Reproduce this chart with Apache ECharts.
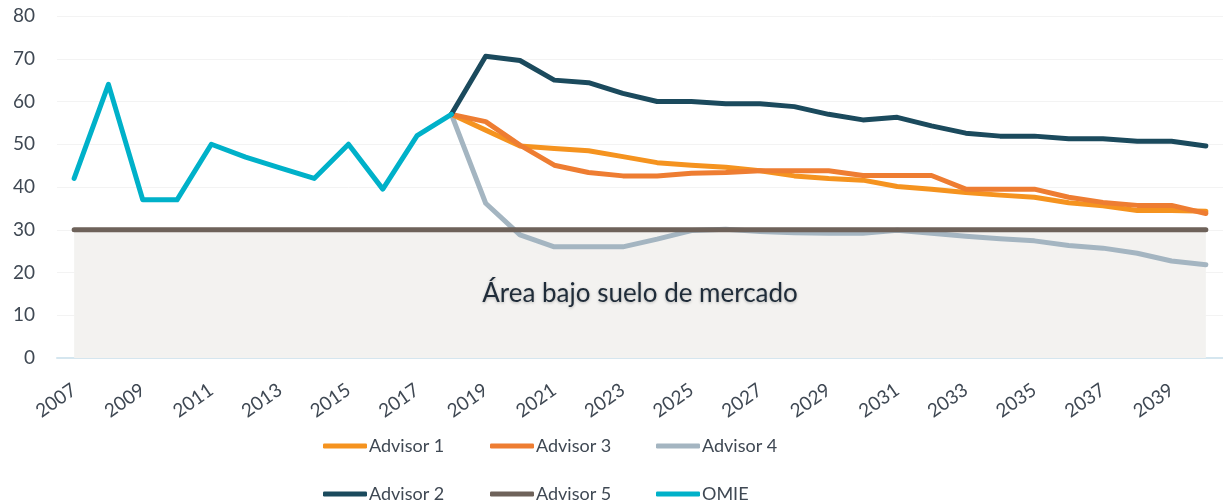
<!DOCTYPE html>
<html lang="es">
<head>
    <meta charset="UTF-8">
    <title>Precios</title>
    <script src="https://cdn.jsdelivr.net/npm/echarts@6.0.0/dist/echarts.min.js"></script>
    <style>
        body { margin: 0; padding: 0; background: #fff; }
        #main { width: 1223px; height: 502px; }
    </style>
</head>
<body>
    <div id="main"></div>
    <script>
        // años 2007-2040
        var years = [];
        for (var y = 2007; y <= 2040; y++) years.push(String(y));

        var omie = [42, 64, 37, 37, 50, 47, 44.5, 42, 50, 39.5, 52, 57];
        var advisor1 = [57, 53.3, 49.6, 49, 48.5, 47.1, 45.7, 45.1, 44.6, 43.8, 42.6, 42, 41.6, 40.1, 39.5, 38.7, 38.1, 37.6, 36.3, 35.6, 34.5, 34.5, 34.3];
        var advisor2 = [57, 70.6, 69.6, 65, 64.4, 61.9, 60, 60, 59.5, 59.5, 58.8, 57, 55.7, 56.3, 54.3, 52.6, 51.9, 51.9, 51.3, 51.3, 50.7, 50.7, 49.6];
        var advisor3 = [57, 55.3, 49.8, 45.1, 43.4, 42.6, 42.6, 43.2, 43.4, 43.8, 43.8, 43.8, 42.7, 42.7, 42.7, 39.5, 39.5, 39.5, 37.6, 36.4, 35.7, 35.7, 33.8];
        var advisor4 = [57, 36.2, 28.8, 26, 26, 26, 27.8, 29.8, 30.1, 29.6, 29.3, 29.2, 29.2, 29.9, 29.2, 28.5, 27.9, 27.4, 26.3, 25.7, 24.5, 22.7, 21.8];
        var floorValue = 30;
        var floorLabel = 'Área bajo suelo de mercado';

        function pad(arr, before) {
            var out = [];
            for (var i = 0; i < before; i++) out.push(null);
            return out.concat(arr);
        }
        var advisor5 = years.map(function () { return floorValue; });

        var font = "Lato, 'Noto Sans', sans-serif";
        var textColor = '#3f4853';

        function line(name, data, color, width) {
            return {
                name: name,
                type: 'line',
                data: data,
                symbol: 'none',
                lineStyle: { color: color, width: width, cap: 'round', join: 'round' },
                itemStyle: { color: color }
            };
        }

        // una leyenda por elemento para fijar la rejilla 3x2
        function legendItem(name, left, top) {
            return {
                left: left,
                top: top,
                padding: 0,
                icon: 'roundRect',
                itemWidth: 44,
                itemHeight: 5,
                itemGap: 0,
                data: [name],
                textStyle: { fontFamily: font, fontSize: 18, color: textColor, padding: [0, 0, 0, -3] }
            };
        }

        var chart = echarts.init(document.getElementById('main'));
        var floorSeries = line('Advisor 5', advisor5, '#6e625a', 5);
        floorSeries.markArea = {
            silent: true,
            itemStyle: { color: '#f3f2f0' },
            label: {
                show: true,
                position: 'inside',
                fontFamily: font,
                fontSize: 26,
                color: '#1f2c39',
                textShadowColor: 'rgba(0,0,0,0.25)',
                textShadowBlur: 3,
                textShadowOffsetY: 1
            },
            data: [[
                { name: floorLabel, xAxis: years[0], yAxis: 0 },
                { xAxis: years[years.length - 1], yAxis: floorValue }
            ]]
        };

        var option = {
            animation: false,
            grid: { left: 57, right: -13, top: 16, bottom: 144, containLabel: false },
            legend: [
                legendItem('Advisor 1', 323, 437),
                legendItem('Advisor 3', 490, 437),
                legendItem('Advisor 4', 656, 437),
                legendItem('Advisor 2', 323, 485),
                legendItem('Advisor 5', 490, 485),
                legendItem('OMIE', 656, 485)
            ],
            xAxis: {
                type: 'category',
                data: years,
                boundaryGap: true,
                axisLine: { lineStyle: { color: '#d5e6ef', width: 2 } },
                axisTick: { show: false },
                axisLabel: {
                    interval: 1,
                    rotate: 35,
                    margin: 30,
                    fontFamily: font,
                    fontSize: 19,
                    color: textColor
                }
            },
            yAxis: {
                type: 'value',
                min: 0,
                max: 80,
                interval: 10,
                axisLine: { show: false },
                axisTick: { show: false },
                splitLine: { lineStyle: { color: '#f3f3f3', width: 1 } },
                axisLabel: { margin: 22, fontFamily: font, fontSize: 19, color: textColor }
            },
            series: [
                line('Advisor 4', pad(advisor4, 11), '#a4b5c1', 5),
                line('Advisor 1', pad(advisor1, 11), '#f5931f', 5),
                line('Advisor 3', pad(advisor3, 11), '#ee7d32', 5),
                line('Advisor 2', pad(advisor2, 11), '#1b4a5d', 5),
                line('OMIE', omie, '#00b1c9', 5),
                floorSeries
            ]
        };
        chart.setOption(option);
    </script>
</body>
</html>
